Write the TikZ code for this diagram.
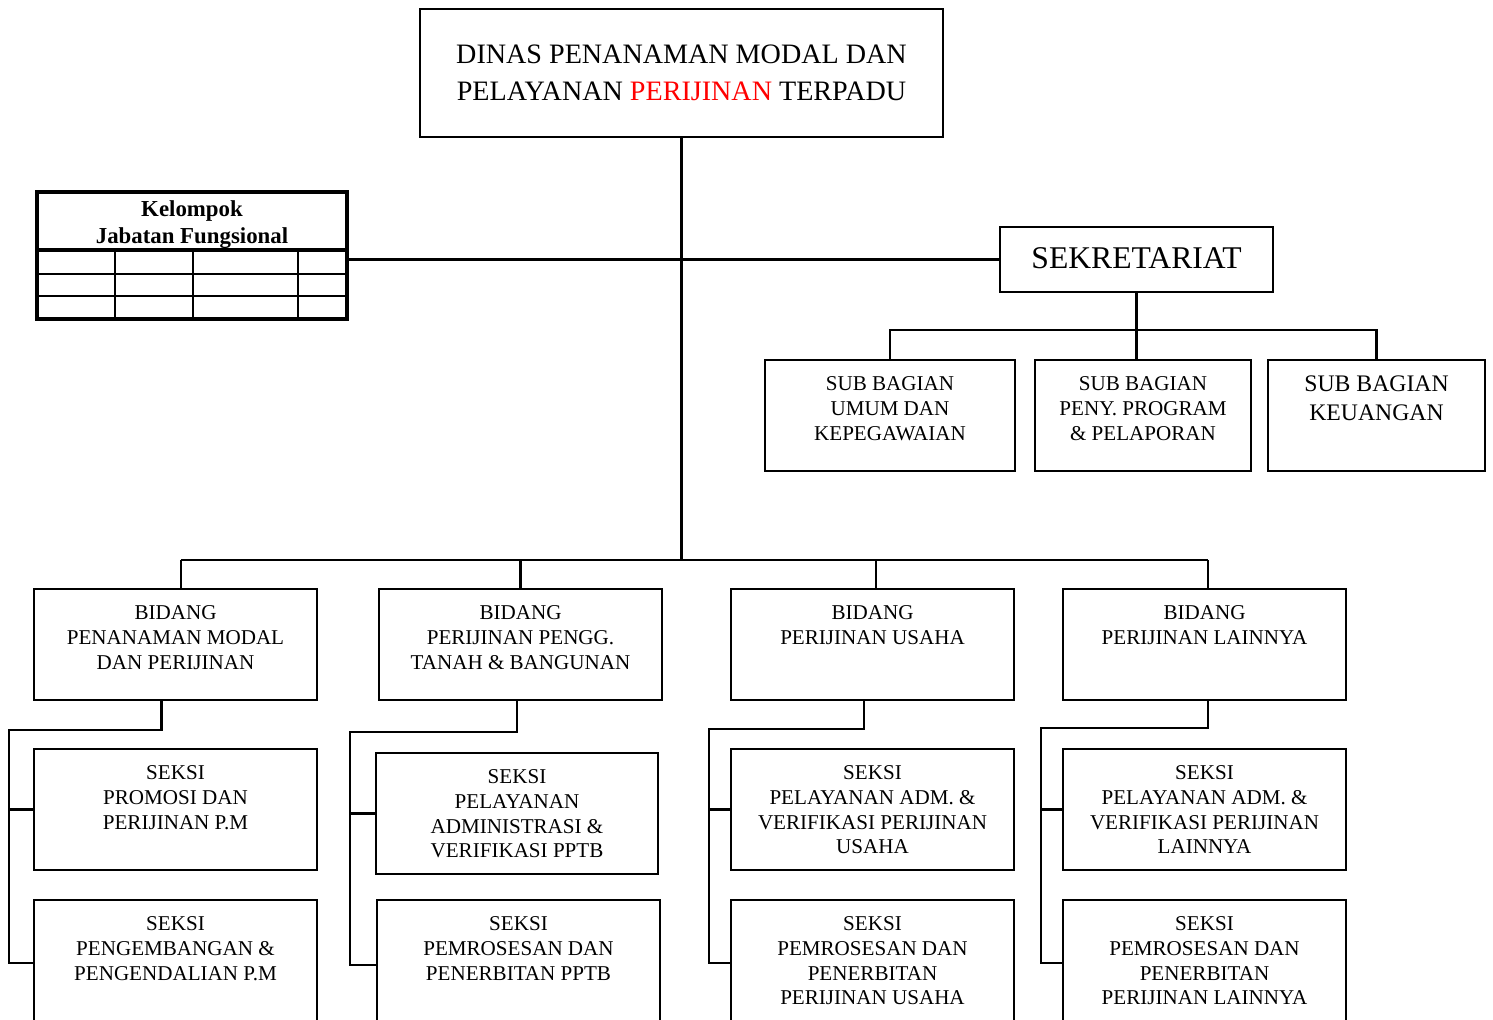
\documentclass[tikz,border=0pt]{standalone}
\usepackage{fontspec}
\setmainfont{Liberation Serif}
\usetikzlibrary{positioning,fit}

\tikzset{
  unit/.style={draw, line width=1.3pt, inner sep=0pt, outer sep=0pt},
  unittext/.style={inner sep=0pt, align=center, font=\fontsize{12}{14.2}\selectfont},
  link/.style={line width=1.3pt},
  cell/.style={line width=0.9pt}
}

% box from corner to corner, text hung from the top
\newcommand{\unitbox}[7][]{%
  \node[unit, fit={(#3,#4) (#5,#6)}] (#2) {};
  \node[unittext, below=9pt of #2.north, #1] (#2-t) {#7};
}

\begin{document}
\begin{tikzpicture}[x=0.02cm, y=-0.02cm]
  \useasboundingbox (0,0) rectangle (1493,1020);
  \clip (0,0) rectangle (1493,1020);
  \fill[white] (0,0) rectangle (1493,1020);

  % Head of office
  \unitbox[font=\fontsize{16}{21}\selectfont, below=20.5pt of head.north]{head}{420}{9}{943}{137}%
    {DINAS PENANAMAN MODAL DAN\\PELAYANAN \textcolor{red}{PERIJINAN} TERPADU}

  % Secretariat and its sub sections
  \unitbox[font=\fontsize{18}{21}\selectfont, below=11.5pt of sek.north]{sek}{1000}{227}{1273}{292}{SEKRETARIAT}
  \unitbox{sbA}{765}{360}{1015}{471}{SUB BAGIAN\\UMUM DAN\\KEPEGAWAIAN}
  \unitbox{sbB}{1035}{360}{1251}{471}{SUB BAGIAN\\PENY. PROGRAM\\\& PELAPORAN}
  \unitbox[font=\fontsize{13.5}{16.4}\selectfont]{sbC}{1268}{360}{1485}{471}{SUB BAGIAN\\KEUANGAN}

  % Functional group table
  \node[unit, line width=1.9pt, fit={(37,192) (347,319)}] (kjf) {};
  \node[inner sep=0pt, align=center, font=\fontsize{13}{15.3}\selectfont\bfseries] (kjf-t)
        at (192,225) {Kelompok\\Jabatan Fungsional};
  \draw[line width=1.9pt] (37,250) -- (347,250);
  \foreach \y in {274,296}
    \draw[cell] (37,\y) -- (347,\y);
  \foreach \x in {115,193,298}
    \draw[cell] (\x,250) -- (\x,319);

  % Divisions
  \unitbox{bidA}{34}{589}{317}{700}{BIDANG\\PENANAMAN MODAL\\DAN PERIJINAN}
  \unitbox{bidB}{379}{589}{662}{700}{BIDANG\\PERIJINAN PENGG.\\TANAH \& BANGUNAN}
  \unitbox{bidC}{731}{589}{1014}{700}{BIDANG\\PERIJINAN USAHA}
  \unitbox{bidD}{1063}{589}{1346}{700}{BIDANG\\PERIJINAN LAINNYA}

  % Sections
  \unitbox{skA1}{34}{749}{317}{870}{SEKSI\\PROMOSI DAN\\PERIJINAN P.M}
  \unitbox{skA2}{34}{900}{317}{1026}{SEKSI\\PENGEMBANGAN \&\\PENGENDALIAN P.M}
  \unitbox{skB1}{376}{753}{658}{874}{SEKSI\\PELAYANAN\\ADMINISTRASI \&\\VERIFIKASI PPTB}
  \unitbox{skB2}{377}{900}{660}{1030}{SEKSI\\PEMROSESAN DAN\\PENERBITAN PPTB}
  \unitbox{skC1}{731}{749}{1014}{870}{SEKSI\\PELAYANAN ADM. \&\\VERIFIKASI PERIJINAN\\USAHA}
  \unitbox{skC2}{731}{900}{1014}{1026}{SEKSI\\PEMROSESAN DAN\\PENERBITAN\\PERIJINAN USAHA}
  \unitbox{skD1}{1063}{749}{1346}{870}{SEKSI\\PELAYANAN ADM. \&\\VERIFIKASI PERIJINAN\\LAINNYA}
  \unitbox{skD2}{1063}{900}{1346}{1026}{SEKSI\\PEMROSESAN DAN\\PENERBITAN\\PERIJINAN LAINNYA}

  % Connectors
  \coordinate (hub) at (681.5,560);
  \coordinate (sbus) at (1137,330);
  \draw[link] (head.south) -- (hub);
  \draw[link] (sek.west) -- (sek.west -| kjf.east);
  \draw[link] (sek.south) -- (sek.south |- sbB.north);
  \draw[link] (sbA.north) -- (sbA.north |- sbus) -- (sbC.north |- sbus) -- (sbC.north);

  \foreach \b/\s in {bidA/3pt, bidB/0pt, bidC/2pt, bidD/2pt}
    \draw[link] ([xshift=\s]\b.north) -- ([xshift=\s]\b.north |- hub);
  \draw[link] ([xshift=3pt]bidA.north |- hub) -- ([xshift=2pt]bidD.north |- hub);

  \coordinate (railA) at (9,730);
  \coordinate (railB) at (350,732);
  \coordinate (railC) at (709,729);
  \coordinate (railD) at (1041,728);
  \foreach \c/\s in {A/-8pt, B/-2pt, C/-5pt, D/2pt} {
    \draw[link] ([xshift=\s]bid\c.south) |- (rail\c) |- (sk\c2.west);
    \draw[link] (rail\c |- sk\c1.west) -- (sk\c1.west);
  }
\end{tikzpicture}
\end{document}
